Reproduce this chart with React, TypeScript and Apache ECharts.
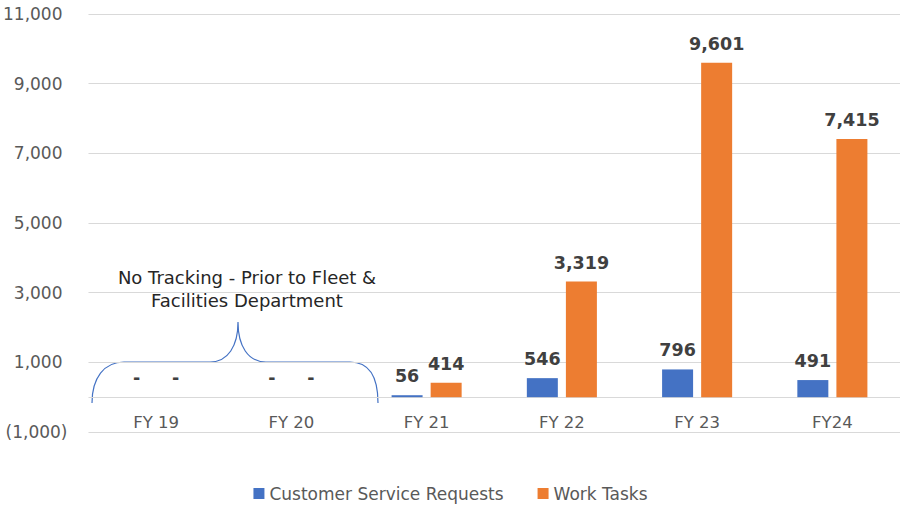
import React, { useEffect, useRef } from "react";
import * as echarts from "echarts";

const categories = ["FY 19", "FY 20", "FY 21", "FY 22", "FY 23", "FY24"];
const customerServiceRequests = [0, 0, 56, 546, 796, 491];
const workTasks = [0, 0, 414, 3319, 9601, 7415];
const seriesNames = ["Customer Service Requests", "Work Tasks"];
const annotationLines = ["No Tracking - Prior to Fleet &", "Facilities Department"];
const yMin = -1000;
const yMax = 11000;
const yStep = 1000;

const FONT = "'DejaVu Sans', 'Open Sans', sans-serif";
const GRID = "#D9D9D9";

const fmt = (v: number) => {
  if (v === 0) return "-";
  const s = Math.abs(v).toLocaleString("en-US");
  return v < 0 ? `(${s})` : s;
};

// split lines at every labelled value (odd thousands) and at zero
const splitColors: string[] = [];
for (let v = yMin; v <= yMax; v += yStep) {
  splitColors.push(v === 0 || Math.abs(v) % 2000 === 1000 ? GRID : "rgba(0,0,0,0)");
}

const bracePath =
  "M 92 403 C 92 378 104 362 124 362 L 210 362 C 228 362 238 346 238 322 C 238 346 248 362 266 362 L 350 362 C 370 362 378 378 378 403";

echarts.graphic.registerShape(
  "brace",
  echarts.graphic.extendPath(bracePath, {})
);

export default function App() {
  const ref = useRef<HTMLDivElement>(null);
  useEffect(() => {
    if (!ref.current) return;
    const chart = echarts.init(ref.current, null, { renderer: "svg" });
    const labelStyle = {
      show: true,
      position: "top" as const,
      distance: 10,
      fontFamily: FONT,
      fontWeight: "bold" as const,
      fontSize: 17.5,
      color: "#404040",
      formatter: (p: any) => fmt(p.value),
    };
    chart.setOption({
      animation: false,
      textStyle: { fontFamily: FONT },
      grid: { left: 88, right: 1, top: 14, bottom: 76, containLabel: false },
      legend: {
        bottom: 1,
        left: "center",
        icon: "rect",
        itemWidth: 11,
        itemHeight: 11,
        itemGap: 34,
        textStyle: { fontFamily: FONT, fontSize: 17, color: "#595959" },
        data: seriesNames,
      },
      xAxis: {
        type: "category",
        data: categories,
        axisLine: { show: false, onZero: false },
        axisTick: { show: false },
        axisLabel: { fontFamily: FONT, fontSize: 16.5, color: "#595959", margin: -18 },
        splitLine: { show: false },
      },
      yAxis: {
        type: "value",
        min: yMin,
        max: yMax,
        interval: yStep,
        axisLine: { show: false },
        axisTick: { show: false },
        axisLabel: {
          fontFamily: FONT,
          fontSize: 17,
          color: "#595959",
          margin: 21,
          formatter: (v: number) => {
            if (Math.abs(v) % 2000 !== 1000) return "";
            return v < 0 ? fmt(v) : `{p|${fmt(v)}}`;
          },
          rich: {
            p: { fontFamily: FONT, fontSize: 17, color: "#595959", padding: [0, 5, 0, 0] },
          },
        },
        splitLine: {
          show: true,
          lineStyle: { color: splitColors, width: 1 },
        },
      },
      series: [
        {
          name: seriesNames[0],
          type: "bar",
          data: customerServiceRequests,
          barWidth: 31,
          barGap: "26%",
          itemStyle: { color: "#4472C4" },
          label: labelStyle,
        },
        {
          name: seriesNames[1],
          type: "bar",
          data: workTasks,
          barWidth: 31,
          barGap: "26%",
          itemStyle: { color: "#ED7D31" },
          label: labelStyle,
        },
      ],
      graphic: [
        {
          type: "brace",
          x: 0,
          y: 0,
          style: { fill: "none", stroke: "#4472C4", lineWidth: 1.2 },
          silent: true,
        },
        {
          type: "text",
          x: 247,
          y: 277,
          style: {
            text: annotationLines[0],
            fontFamily: FONT,
            fontSize: 18,
            fill: "#262626",
            align: "center",
            verticalAlign: "middle",
          },
        },
        {
          type: "text",
          x: 247,
          y: 300,
          style: {
            text: annotationLines[1],
            fontFamily: FONT,
            fontSize: 18,
            fill: "#262626",
            align: "center",
            verticalAlign: "middle",
          },
        },
      ],
    });
    return () => chart.dispose();
  }, []);
  return (
    <div
      ref={ref}
      style={{ position: "fixed", left: 0, top: 0, width: 901, height: 508, background: "#fff" }}
    />
  );
}
